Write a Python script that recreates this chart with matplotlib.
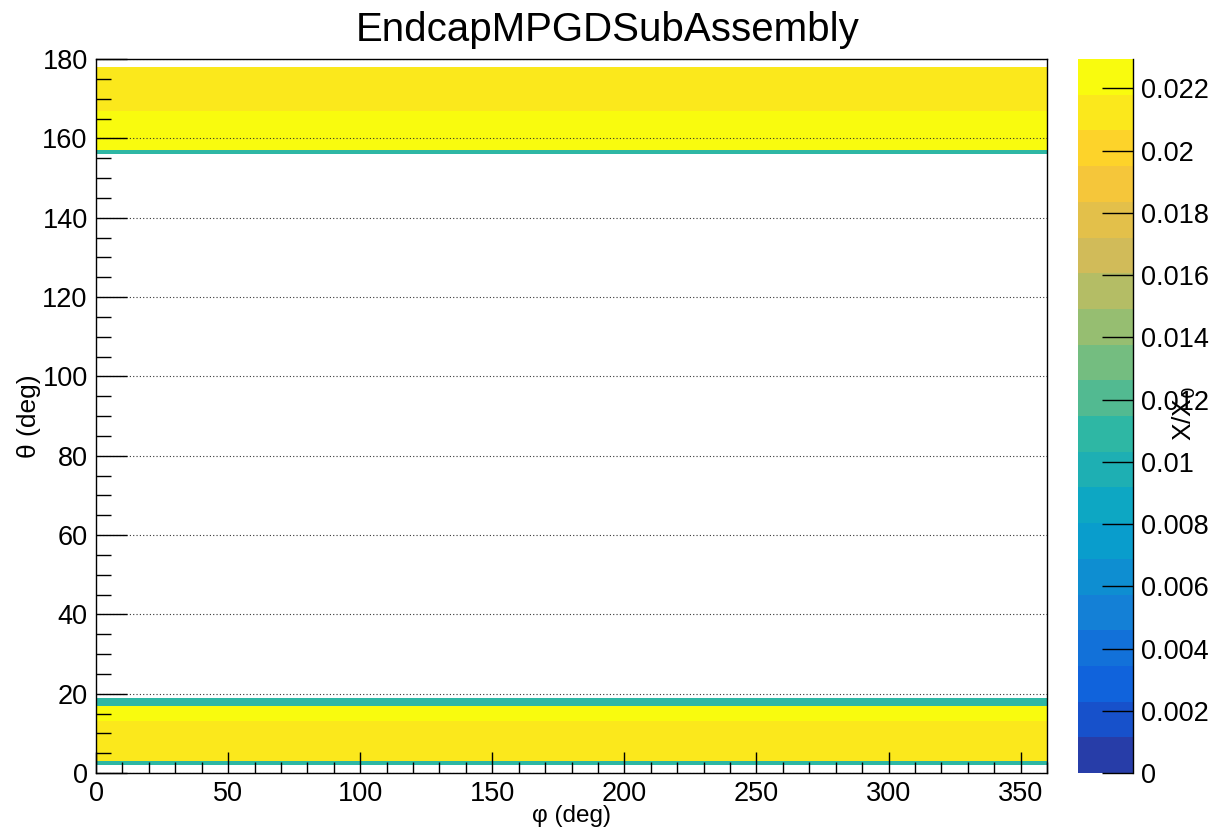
import numpy as np
import matplotlib
matplotlib.use("Agg")
import matplotlib.pyplot as plt
from matplotlib.colors import LinearSegmentedColormap, ListedColormap, BoundaryNorm
from matplotlib.ticker import MultipleLocator, FormatStrFormatter

plt.rcParams['font.family'] = ['Liberation Sans', 'DejaVu Sans']

# material scan: X/X0 per theta slice, flat in phi
theta_edges = [0, 2, 3, 13, 17, 19, 156, 157, 167, 178, 180]
xx0 = [0.0, 0.0108, 0.0215, 0.02294, 0.0108, 0.0, 0.0108, 0.02294, 0.0215, 0.0]
phi_edges = [0, 360]

zmax = 0.02294
ncont = 20

# ROOT kBird palette, sampled the way THistPainter picks contour colours
stops = [0.0, 0.125, 0.25, 0.375, 0.5, 0.625, 0.75, 0.875, 1.0]
red = [0.2082, 0.0592, 0.0780, 0.0232, 0.1802, 0.5301, 0.8186, 0.9956, 0.9764]
green = [0.1664, 0.3599, 0.5041, 0.6419, 0.7178, 0.7492, 0.7328, 0.7862, 0.9832]
blue = [0.5293, 0.8684, 0.8385, 0.7914, 0.6425, 0.4662, 0.3499, 0.1968, 0.0539]
bird = LinearSegmentedColormap.from_list(
    'bird', list(zip(stops, zip(red, green, blue))), N=255)
cols = [bird(int((i + 0.99) * 255 / ncont)) for i in range(ncont)]
cmap = ListedColormap(cols)
cmap.set_bad((1, 1, 1, 0))
norm = BoundaryNorm(np.linspace(0, zmax, ncont + 1), ncont)

z = np.ma.masked_equal(np.array(xx0).reshape(-1, 1), 0.0)

fig = plt.figure(figsize=(12.16, 8.32), dpi=100)
ax = fig.add_axes([96/1216, 59/832, 951/1216, 714/832])
cax = fig.add_axes([1078/1216, 59/832, 55/1216, 714/832])

mesh = ax.pcolormesh(phi_edges, theta_edges, z, cmap=cmap, norm=norm,
                     edgecolors='none', antialiased=False)
ax.set_xlim(0, 360)
ax.set_ylim(0, 180)

ax.xaxis.set_major_locator(MultipleLocator(50))
ax.xaxis.set_minor_locator(MultipleLocator(10))
ax.yaxis.set_major_locator(MultipleLocator(20))
ax.yaxis.set_minor_locator(MultipleLocator(5))
ax.tick_params(axis='x', which='major', direction='in', length=15, width=1, labelsize=19.5, pad=6)
ax.tick_params(axis='x', which='minor', direction='in', length=8, width=1)
ax.tick_params(axis='y', which='major', direction='in', length=22, width=1, labelsize=19.5, pad=6)
ax.tick_params(axis='y', which='minor', direction='in', length=11, width=1)
ax.yaxis.grid(True, which='major', linestyle=(0, (1, 2)), color='0.2', linewidth=0.8)
for s in ax.spines.values():
    s.set_linewidth(1)

ax.set_xlabel('φ (deg)', fontsize=17.5, labelpad=-2)
ax.set_ylabel('θ (deg)', fontsize=19, labelpad=1)
fig.text(0.5, 1 - 30/832, 'EndcapMPGDSubAssembly', fontsize=29, ha='center', va='center')

cb = fig.colorbar(mesh, cax=cax, ticks=np.arange(0, 0.0221, 0.002))
cb.outline.set_visible(False)
cax.plot([1, 1], [0, 1], transform=cax.transAxes, color='k', lw=1, clip_on=False)
cax.yaxis.set_major_formatter(FormatStrFormatter('%g'))
cax.tick_params(axis='y', direction='in', length=22, width=1, labelsize=19.5, pad=6)
cax.minorticks_off()
fig.text(1184/1216, 1 - 413/832, r'X/X$_0$', fontsize=19, rotation=90,
         ha='center', va='center')

fig.savefig('out.png', dpi=100)
